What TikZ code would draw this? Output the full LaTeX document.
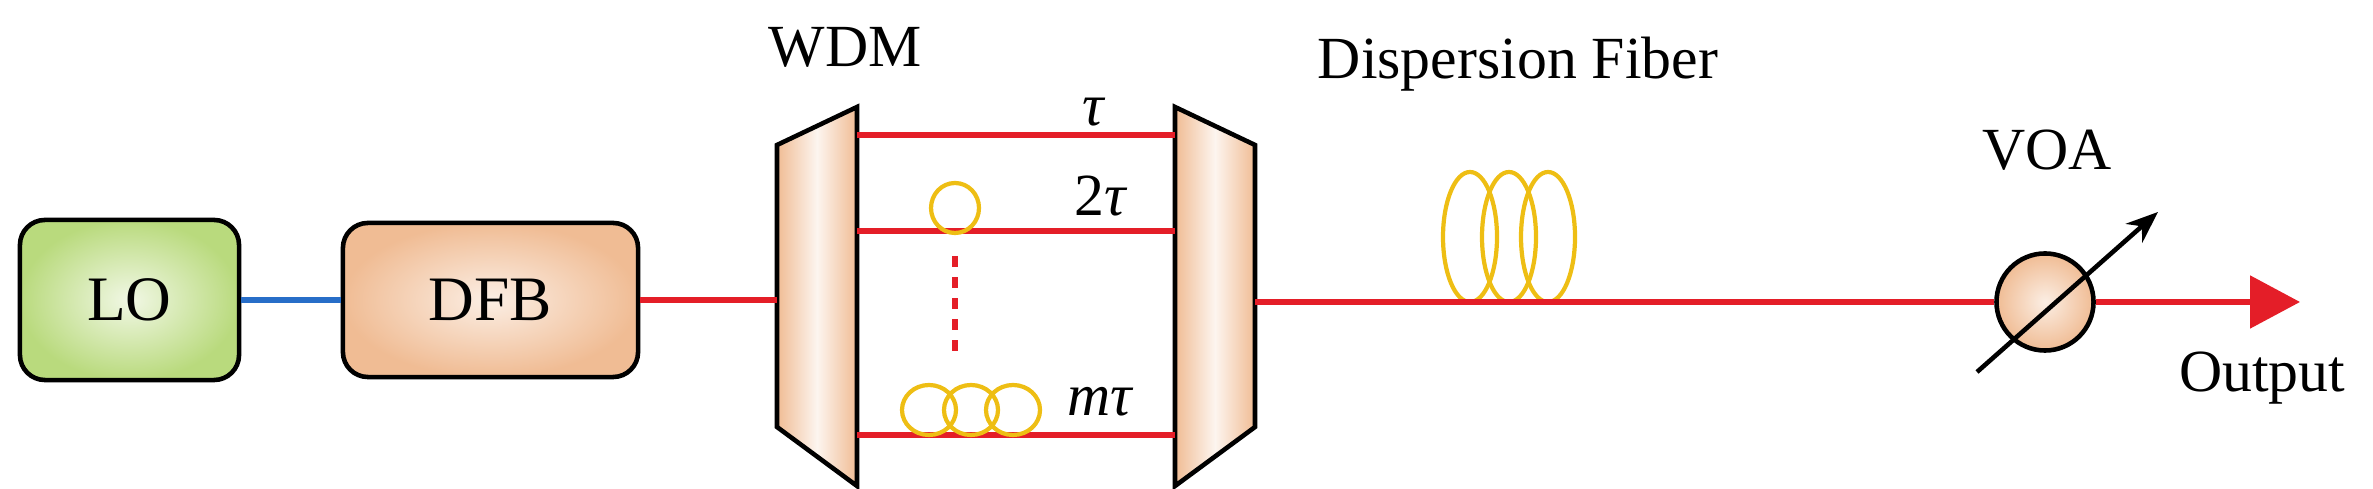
\documentclass[tikz,border=0pt]{standalone}
\usepackage{fontspec}
\setmainfont{Liberation Serif}
\newfontfamily\tnr{Liberation Serif}
\usetikzlibrary{arrows.meta}
\definecolor{peach}{RGB}{240,188,148}
\definecolor{lgreen}{RGB}{185,218,125}
\definecolor{fred}{RGB}{228,30,40}
\definecolor{fblue}{RGB}{40,110,200}
\definecolor{coil}{RGB}{238,190,20}
\tikzset{
  box/.style={draw=black,line width=1.3pt,rounded corners=0.25cm,minimum width=2.19cm,minimum height=1.6cm,font=\tnr\fontsize{18}{20}\selectfont,inner sep=0pt},
  fib/.style={draw=fred,line width=1.5pt},
  coilst/.style={draw=coil,line width=1.2pt},
  lbl/.style={font=\tnr\fontsize{17}{19}\selectfont,inner sep=0pt},
  wdm/.style={draw=black,line width=1.3pt,shading=axis,left color=peach,right color=peach,middle color=white!85!peach,shading angle=90}
}
\begin{document}
\begin{tikzpicture}[x=0.01cm,y=-0.01cm]
\useasboundingbox (0,0) rectangle (2373,489);
% boxes
\node[box,shading=radial,inner color=white!80!lgreen,outer color=lgreen] (lo) at (129.5,300) {LO};
\node[box,minimum width=2.95cm,minimum height=1.54cm,shading=radial,inner color=white!75!peach,outer color=peach] (dfb) at (490.5,300) {DFB};
% WDM trapezoids
\draw[wdm] (777,145) -- (857,107) -- (857,486) -- (777,427) -- cycle;
\draw[wdm] (1175,107) -- (1255,145) -- (1255,427) -- (1175,486) -- cycle;
\coordinate (win) at (777,300);
\coordinate (a1) at (857,135); \coordinate (b1) at (1175,135);
\coordinate (a2) at (857,231); \coordinate (b2) at (1175,231);
\coordinate (a3) at (857,435); \coordinate (b3) at (1175,435);
\coordinate (wout) at (1255,302);
\coordinate (out) at (2300,302);
% connectors
\draw[draw=fblue,line width=1.7pt] (lo.east) -- (dfb.west);
\draw[fib] (dfb.east) -- (win);
\draw[fib] (a1) -- (b1);
\draw[fib] (a2) -- (b2);
\draw[fib] (a3) -- (b3);
\draw[fib,dashed] (955,256) -- (955,356);
% coils
\draw[coilst] (955,208) ellipse (24 and 25);
\foreach \x in {929,971,1013} \draw[coilst] (\x,410) ellipse (27 and 25);
\foreach \x in {1470,1509,1548} \draw[coilst] (\x,237) ellipse (27 and 65);
% main line
\node[circle,draw=black,line width=1.3pt,minimum size=0.97cm,inner sep=0pt,shading=radial,inner color=white!75!peach,outer color=peach] (voa) at (2045,302) {};
\draw[fib] (wout) -- (voa.west);
\draw[fib,-{Triangle[length=0.5cm,width=0.52cm]}] (voa.east) -- (out);
\draw[line width=1.3pt,-{Stealth[length=0.32cm,width=0.25cm]}] (1977,372) -- (2158,212);
% labels
\node[lbl] (lwdm) at (845,47) {WDM};
\node[lbl] (lt1) at (1093,112) {\itshape τ};
\node[lbl] (lt2) at (1100,196) {2\itshape τ};
\node[lbl] (lt3) at (1100,402) {\itshape mτ};
\node[lbl] (ldf) at (1518,64) {Dispersion Fiber};
\node[lbl] (lvoa) at (2047,150) {VOA};
\node[lbl] (lout) at (2262,378) {Output};
\end{tikzpicture}
\end{document}
